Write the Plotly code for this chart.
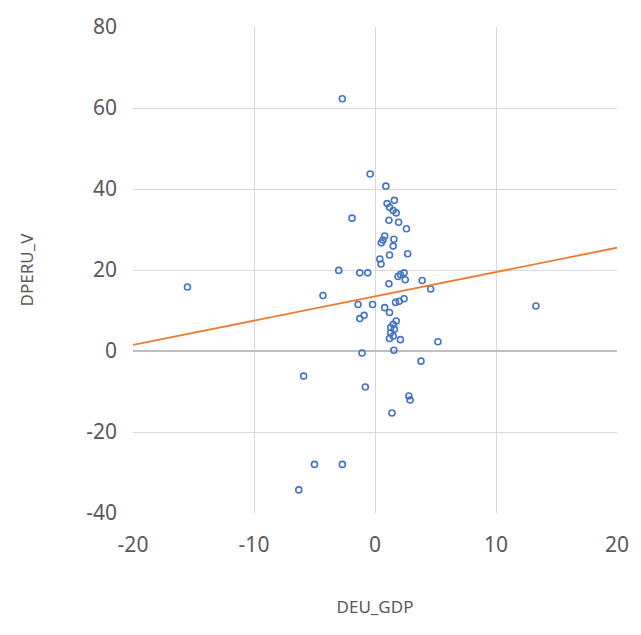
import plotly.graph_objects as go

DEU_GDP = [-2.7, -0.4, 0.9, -1.9, 1.6, 1.0, 1.2, 1.5, 1.75, 1.15, 1.95, 2.6, 0.8, 0.66, 0.52,
           1.56, 1.5, 2.7, 1.2, 0.4, 0.5, -3.0, -1.26, -0.6, 1.9, 2.1, 2.4, 2.5, 1.15, 3.9,
           4.6, -15.5, 13.3, -4.3, -1.4, -0.2, 0.8, 1.2, 2.0, 2.4, 1.7, -0.9, -1.26, 1.75,
           1.5, 1.3, 1.6, 1.3, 1.5, 1.2, 2.1, 5.2, -1.07, 1.56, 3.8, -0.8, 2.8, 2.9, 1.4,
           -5.9, -5.0, -2.7, -6.3]
DPERU_V = [62.3, 43.7, 40.7, 32.8, 37.2, 36.4, 35.5, 34.7, 34.1, 32.3, 31.8, 30.2, 28.4, 27.4, 26.7,
           27.6, 25.9, 24.0, 23.7, 22.7, 21.5, 19.9, 19.3, 19.3, 18.4, 18.9, 19.3, 17.6, 16.6, 17.4,
           15.3, 15.8, 11.1, 13.7, 11.5, 11.5, 10.7, 9.5, 12.3, 12.9, 12.0, 8.8, 8.0, 7.4,
           6.6, 5.8, 5.4, 4.5, 3.7, 3.1, 2.8, 2.3, -0.5, 0.2, -2.5, -8.9, -11.1, -12.1, -15.3,
           -6.2, -28.0, -28.0, -34.3]

TREND_X = [-20, 20]
TREND_Y = [1.5, 25.5]

X_TICKS = [-20, -10, 0, 10, 20]
Y_TICKS = [-40, -20, 0, 20, 40, 60, 80]

fig = go.Figure()
fig.add_trace(go.Scatter(
    x=DEU_GDP, y=DPERU_V, mode="markers",
    marker=dict(symbol="circle-open", size=6, color="#4472c4", line=dict(width=1.6, color="#4472c4")),
    showlegend=False, hoverinfo="x+y"))
fig.add_trace(go.Scatter(
    x=TREND_X, y=TREND_Y, mode="lines",
    line=dict(color="#ed7d31", width=1.8), showlegend=False))

tick_font = dict(family="Noto Sans, Open Sans, sans-serif", size=21, color="#595959")
title_font = dict(family="Noto Sans, Open Sans, sans-serif", size=17, color="#595959")

fig.update_layout(
    width=641, height=635,
    margin=dict(l=133, r=21, t=22, b=122),
    paper_bgcolor="white", plot_bgcolor="white",
    xaxis=dict(range=[-20, 20], tickvals=X_TICKS, ticktext=[str(v) for v in X_TICKS],
               showgrid=True, gridcolor="#d9d9d9", gridwidth=1, zeroline=False,
               showline=False, ticks="", tickfont=tick_font, ticklabelstandoff=17,
               title=dict(text="DEU_GDP", font=title_font, standoff=44)),
    yaxis=dict(range=[-40, 80], tickvals=Y_TICKS, ticktext=[str(v) for v in Y_TICKS],
               showgrid=True, gridcolor="#d9d9d9", gridwidth=1, zeroline=True,
               zerolinecolor="#bfbfbf", zerolinewidth=1.5,
               showline=False, ticks="", tickfont=tick_font, ticklabelstandoff=15,
               title=dict(text="DPERU_V", font=title_font, standoff=48)),
)

fig.write_html("out.html")
